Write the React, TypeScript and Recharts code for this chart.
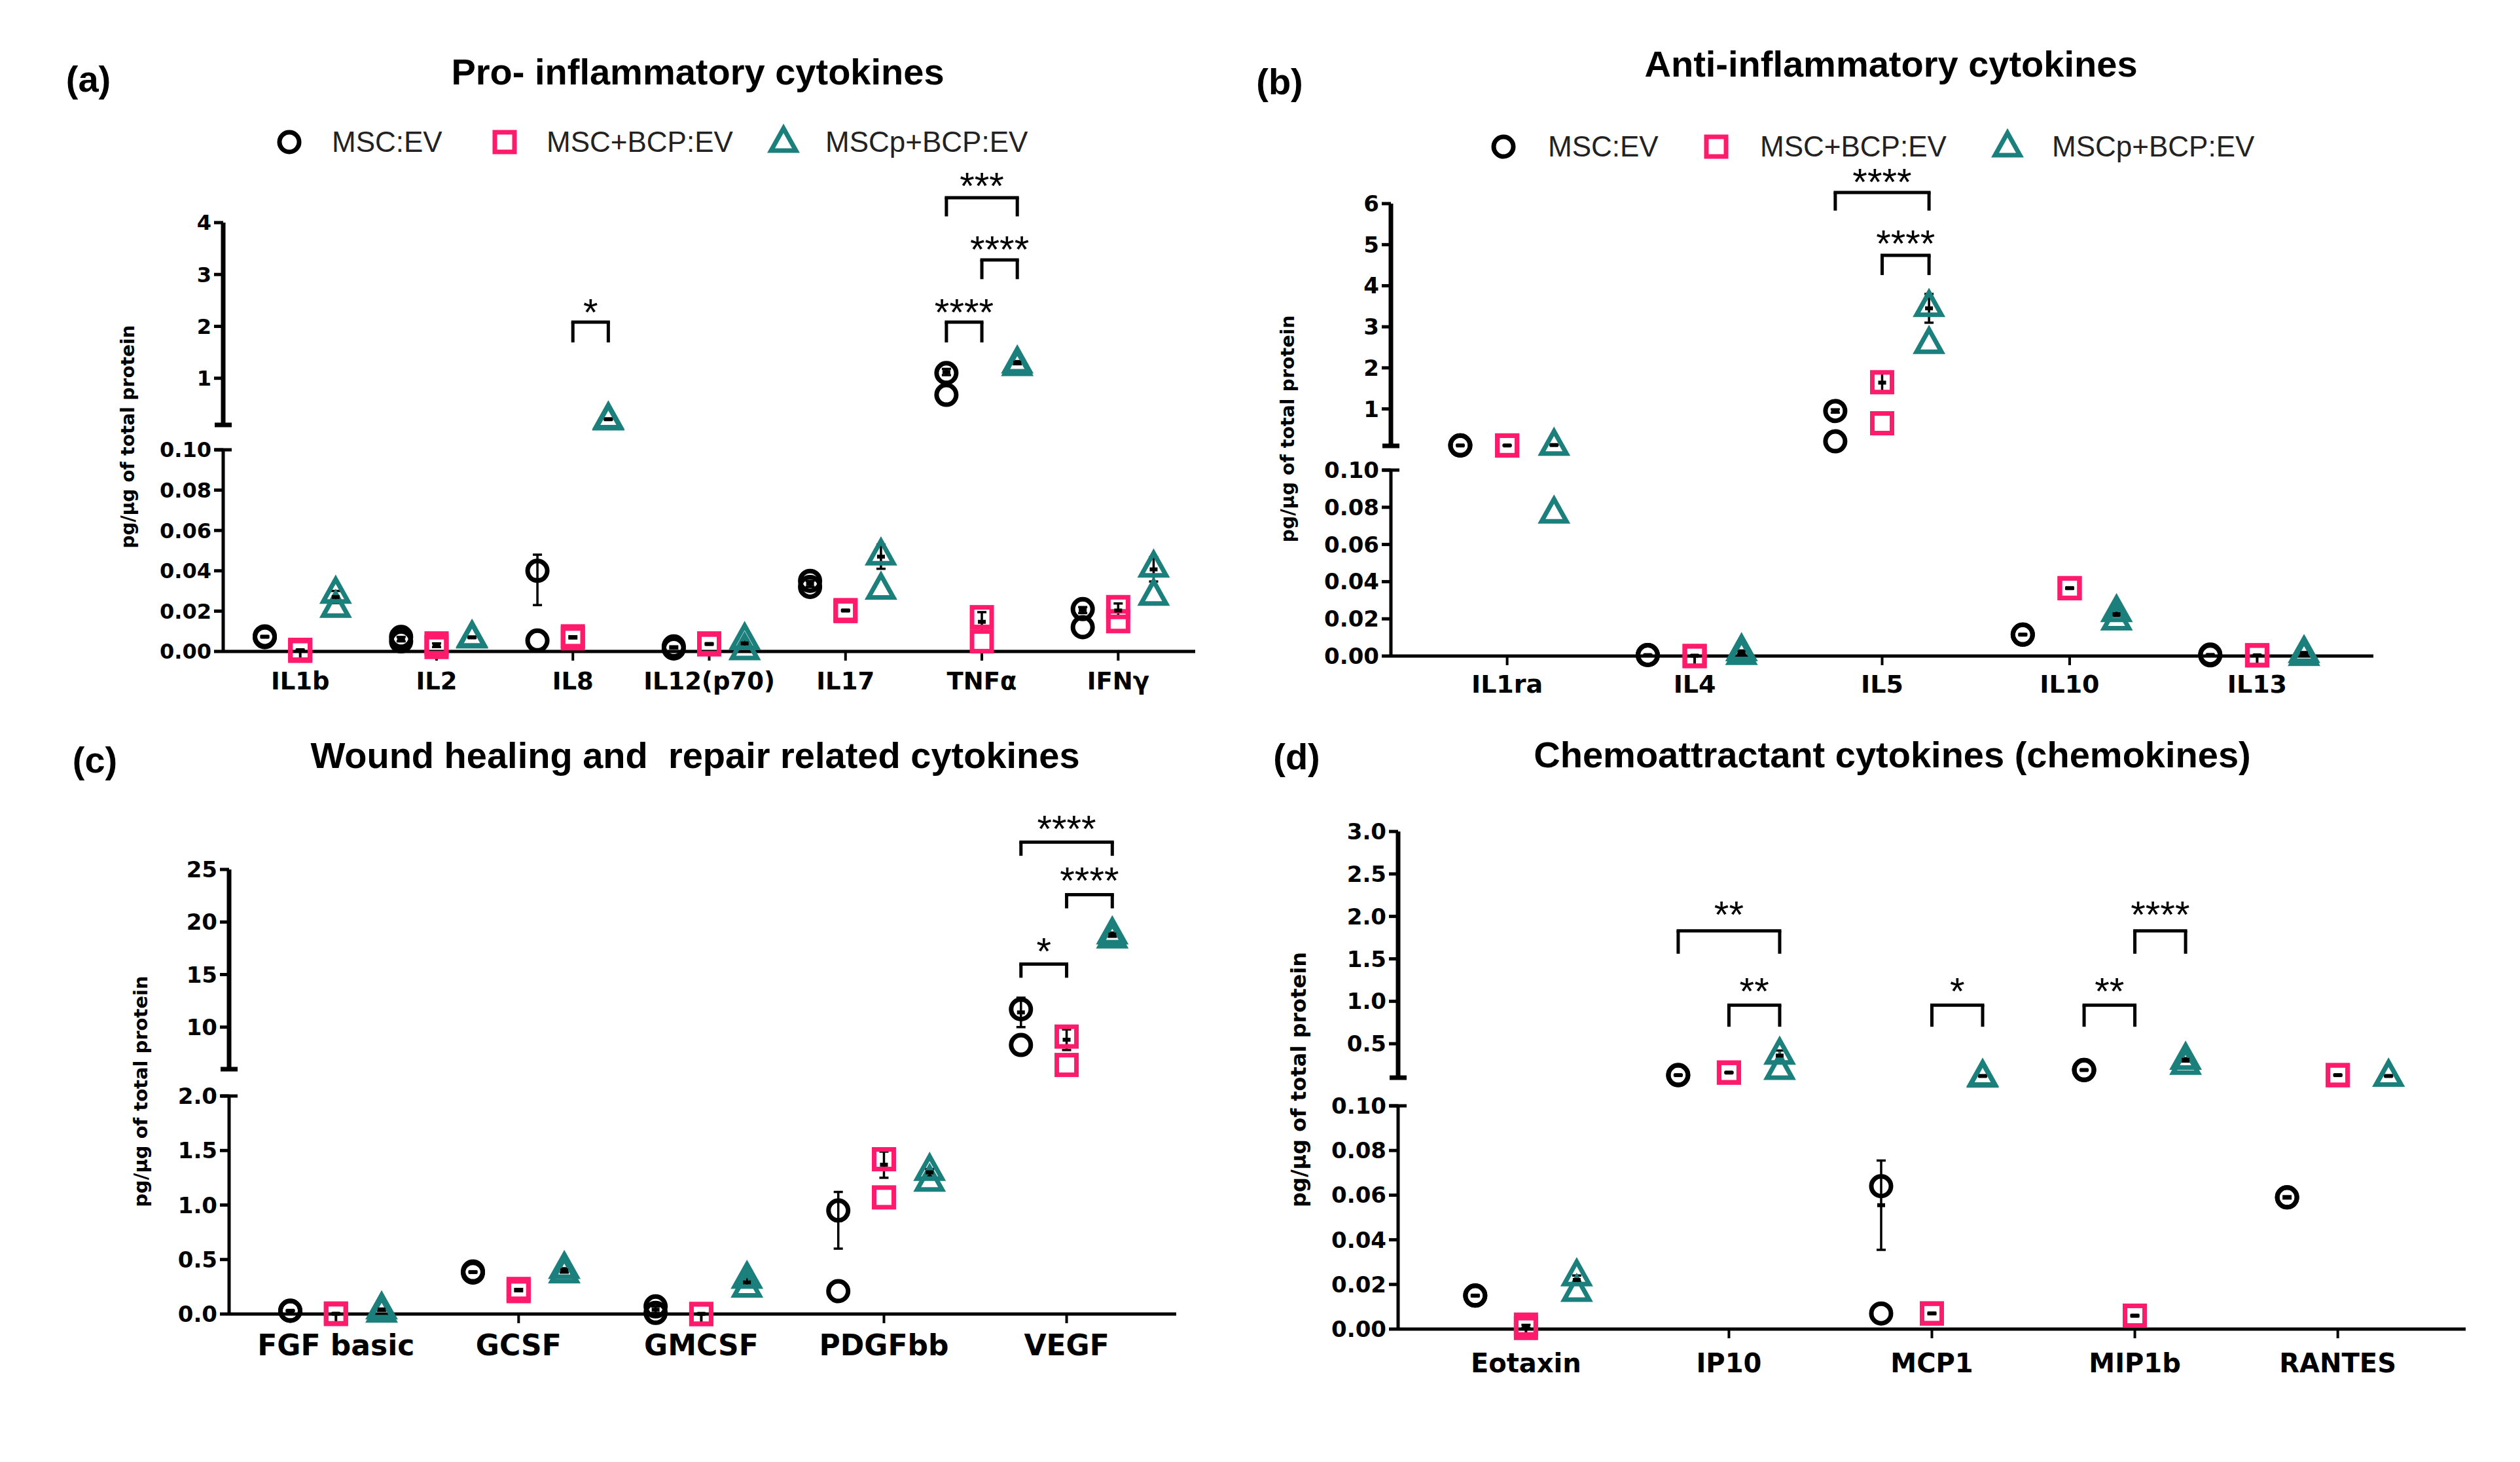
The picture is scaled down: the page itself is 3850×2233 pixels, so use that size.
import React from 'react';
import { ScatterChart, Scatter, XAxis, YAxis, ErrorBar, ReferenceLine, ReferenceDot } from 'recharts';

const BLACK = '#000000';
const PINK = '#FF1A6C';
const TEAL = '#1B807C';
const SERIES = ['MSC:EV', 'MSC+BCP:EV', 'MSCp+BCP:EV'];
const TITLE_FONT = "'Liberation Sans', Arial, sans-serif";
const AXIS_FONT = "'DejaVu Sans', sans-serif";

// (a) Pro-inflammatory cytokines: replicate pairs and [mean, sem]
const aCats = ['IL1b', 'IL2', 'IL8', 'IL12(p70)', 'IL17', 'TNFα', 'IFNγ'];
const aMsc = [[0.0075, 0.0071], [0.0072, 0.005], [0.04, 0.0054], [0.0025, 0.0015], [0.035, 0.032], [1.1, 0.68], [0.021, 0.012]];
const aMscBar = [[0.0073, 0.0003], [0.0061, 0.0011], [0.0355, 0.0125], [0.002, 0.0005], [0.0335, 0.0015], [1.12, 0.06], [0.0205, 0.0015]];
const aBcp = [[0.0008, 0.0003], [0.004, 0.0022], [0.0075, 0.0065], [0.004, 0.0035], [0.0205, 0.02], [0.017, 0.005], [0.022, 0.015]];
const aBcpBar = [[0.0006, 0.0003], [0.0031, 0.0009], [0.007, 0.0005], [0.0037, 0.0003], [0.0203, 0.0003], [0.0147, 0.0048], [0.0203, 0.0035]];
const aPb = [[0.029, 0.022], [0.0072, 0.0068], [0.22, 0.2], [0.006, 0.001], [0.048, 0.031], [1.3, 1.25], [0.042, 0.028]];
const aPbBar = [[0.027, 0.003], [0.007, 0.0003], [0.21, 0.01], [0.004, 0.0015], [0.047, 0.006], [1.3, 0.03], [0.0407, 0.006]];
// [category, from series, to series, bracket top, leg end, label y, text]
const aBrackets: [number, number, number, number, number, number, string][] = [
  [2, 1, 2, 2.08, 1.69, 2.4, '*'],
  [5, 0, 1, 2.08, 1.69, 2.4, '****'],
  [5, 1, 2, 3.28, 2.91, 3.62, '****'],
  [5, 0, 2, 4.48, 4.12, 4.84, '***'],
];

// (b) Anti-inflammatory cytokines
const bCats = ['IL1ra', 'IL4', 'IL5', 'IL10', 'IL13'];
const bMsc = [[0.11, 0.11], [0.0005, 0.0005], [0.95, 0.21], [0.0115, 0.0115], [0.0008, 0.0004]];
const bMscBar = [[0.11, 0.002], [0.0005, 0.0002], [0.95, 0.04], [0.0115, 0.0003], [0.0006, 0.0002]];
const bBcp = [[0.11, 0.11], [0, 0], [1.65, 0.65], [0.0365, 0.0365], [0.0004, 0.0004]];
const bBcpBar = [[0.11, 0.002], [0.0002, 0.0002], [1.64, 0.23], [0.0365, 0.0003], [0.0004, 0.0002]];
const bPb = [[0.12, 0.077], [0.003, 0.001], [3.5, 2.6], [0.024, 0.0195], [0.002, 0.0004]];
const bPbBar = [[0.12, 0.004], [0.002, 0.001], [3.45, 0.35], [0.0225, 0.001], [0.0015, 0.0006]];
const bBrackets: [number, number, number, number, number, number, string][] = [
  [2, 0, 2, 6.27, 5.83, 6.7, '****'],
  [2, 1, 2, 4.74, 4.26, 5.19, '****'],
];

// (c) Wound healing and repair related cytokines
const cCats = ['FGF basic', 'GCSF', 'GMCSF', 'PDGFbb', 'VEGF'];
const cMsc = [[0.03, 0.03], [0.39, 0.38], [0.07, 0.01], [0.95, 0.21], [11.7, 8.3]];
const cMscBar = [[0.03, 0.003], [0.385, 0.005], [0.04, 0.03], [0.86, 0.26], [11.4, 1.4]];
const cBcp = [[0.005, 0.0], [0.21, 0.23], [0.0, 0.0], [1.42, 1.07], [9.1, 6.4]];
const cBcpBar = [[0.003, 0.003], [0.22, 0.01], [0.002, 0.002], [1.37, 0.12], [8.8, 0.98]];
const cPb = [[0.05, 0.02], [0.42, 0.38], [0.33, 0.25], [1.32, 1.22], [18.9, 18.5]];
const cPbBar = [[0.04, 0.01], [0.4, 0.02], [0.29, 0.04], [1.3, 0.03], [18.8, 0.2]];
const cBrackets: [number, number, number, number, number, number, string][] = [
  [4, 0, 2, 27.6, 26.3, 29.5, '****'],
  [4, 1, 2, 22.6, 21.3, 24.6, '****'],
  [4, 0, 1, 16.0, 14.7, 17.85, '*'],
];

// (d) Chemoattractant cytokines (chemokines)
const dCats = ['Eotaxin', 'IP10', 'MCP1', 'MIP1b', 'RANTES'];
const dMsc = [[0.015, 0.015], [0.13, 0.13], [0.064, 0.007], [0.19, 0.19], [0.059, 0.059]];
const dMscBar = [[0.015, 0.0003], [0.13, 0.003], [0.0555, 0.02], [0.19, 0.003], [0.059, 0.0005]];
const dBcp = [[0.002, 0.0005], [0.16, 0.16], [0.007, 0.007], [0.006, 0.006], [0.13, 0.13]];
const dBcpBar = [[0.0012, 0.0007], [0.16, 0.003], [0.007, 0.0003], [0.006, 0.0003], [0.13, 0.005]];
const dPb = [[0.024, 0.017], [0.38, 0.2], [0.12, 0.11], [0.32, 0.26], [0.12, 0.12]];
const dPbBar = [[0.022, 0.002], [0.36, 0.06], [0.12, 0.005], [0.31, 0.02], [0.12, 0.005]];
const dBrackets: [number, number, number, number, number, number, string][] = [
  [1, 0, 2, 1.83, 1.56, 2.1, '**'],
  [1, 1, 2, 0.955, 0.7, 1.2, '**'],
  [2, 1, 2, 0.955, 0.7, 1.2, '*'],
  [3, 0, 1, 0.955, 0.7, 1.2, '**'],
  [3, 1, 2, 1.83, 1.56, 2.1, '****'],
];

type Seg = { top: number; bottom: number; domain: [number, number]; ticks: number[]; fmt: (v: number) => string };
type Panel = {
  letter: string; letterX: number; letterY: number;
  title: string; titleX: number; titleY: number;
  yLabelX: number; yLabelY: number; yLabelSize: number;
  cats: string[];
  series: { reps: number[][]; bars: number[][] }[];
  brackets: [number, number, number, number, number, number, string][];
  off: number; left: number; right: number; xDom: [number, number];
  brk: number; upper: Seg; lower: Seg;
  tickFont: number; catFont: number; catTop: number;
  legend?: { y: number; items: [number, number][] };
};

const f0 = (v: number) => String(v);
const f1 = (v: number) => v.toFixed(1);
const f2 = (v: number) => v.toFixed(2);
const small = [0, 0.02, 0.04, 0.06, 0.08, 0.1];

const panels: Panel[] = [
  {
    letter: '(a)', letterX: 135, letterY: 121, title: 'Pro- inflammatory cytokines', titleX: 1066, titleY: 110,
    yLabelX: 196, yLabelY: 667, yLabelSize: 28, cats: aCats,
    series: [{ reps: aMsc, bars: aMscBar }, { reps: aBcp, bars: aBcpBar }, { reps: aPb, bars: aPbBar }],
    brackets: aBrackets, off: 0.26, left: 341, right: 1826, xDom: [-0.565, 6.565], brk: 0.1,
    upper: { top: 340, bottom: 649, domain: [0.1, 4], ticks: [1, 2, 3, 4], fmt: f0 },
    lower: { top: 687, bottom: 995, domain: [0, 0.1], ticks: small, fmt: f2 },
    tickFont: 32, catFont: 37, catTop: 32,
    legend: { y: 217, items: [[442, 507], [771, 835], [1197, 1261]] },
  },
  {
    letter: '(b)', letterX: 1955, letterY: 125, title: 'Anti-inflammatory cytokines', titleX: 2889, titleY: 98,
    yLabelX: 1968, yLabelY: 655, yLabelSize: 28.5, cats: bCats,
    series: [{ reps: bMsc, bars: bMscBar }, { reps: bBcp, bars: bBcpBar }, { reps: bPb, bars: bPbBar }],
    brackets: bBrackets, off: 0.25, left: 2125, right: 3626, xDom: [-0.62, 4.62], brk: 0.1,
    upper: { top: 311, bottom: 681, domain: [0.1, 6], ticks: [1, 2, 3, 4, 5, 6], fmt: f0 },
    lower: { top: 718, bottom: 1002, domain: [0, 0.1], ticks: small, fmt: f2 },
    tickFont: 34, catFont: 38, catTop: 29,
    legend: { y: 224, items: [[2297, 2365], [2622, 2689], [3067, 3135]] },
  },
  {
    letter: '(c)', letterX: 145, letterY: 1161, title: 'Wound healing and  repair related cytokines', titleX: 1062, titleY: 1154,
    yLabelX: 215, yLabelY: 1667, yLabelSize: 29, cats: cCats,
    series: [{ reps: cMsc, bars: cMscBar }, { reps: cBcp, bars: cBcpBar }, { reps: cPb, bars: cPbBar }],
    brackets: cBrackets, off: 0.25, left: 350, right: 1797, xDom: [-0.585, 4.6], brk: 2,
    upper: { top: 1328, bottom: 1633, domain: [6, 25], ticks: [10, 15, 20, 25], fmt: f0 },
    lower: { top: 1674, bottom: 2007, domain: [0, 2], ticks: [0, 0.5, 1, 1.5, 2], fmt: f1 },
    tickFont: 34, catFont: 44, catTop: 32,
  },
  {
    letter: '(d)', letterX: 1981, letterY: 1156, title: 'Chemoattractant cytokines (chemokines)', titleX: 2891, titleY: 1153,
    yLabelX: 1984, yLabelY: 1649, yLabelSize: 32, cats: dCats,
    series: [{ reps: dMsc, bars: dMscBar }, { reps: dBcp, bars: dBcpBar }, { reps: dPb, bars: dPbBar }],
    brackets: dBrackets, off: 0.25, left: 2136, right: 3767, xDom: [-0.63, 4.63], brk: 0.1,
    upper: { top: 1270, bottom: 1646, domain: [0.1, 3], ticks: [0.5, 1, 1.5, 2, 2.5, 3], fmt: f1 },
    lower: { top: 1689, bottom: 2030, domain: [0, 0.1], ticks: small, fmt: f2 },
    tickFont: 34, catFont: 40, catTop: 38,
  },
];

const circleShape = (p: any) => <circle cx={p.cx} cy={p.cy} r={15} fill="none" stroke={BLACK} strokeWidth={7} />;
const squareShape = (p: any) => (
  <rect x={p.cx - 15} y={p.cy - 15} width={30} height={30} fill="none" stroke={PINK} strokeWidth={7} />
);
const triShape = (p: any) => (
  <path d={`M${p.cx},${p.cy - 21}L${p.cx + 19},${p.cy + 13}L${p.cx - 19},${p.cy + 13}Z`} fill="none" stroke={TEAL} strokeWidth={7} />
);
const dashShape = (p: any) => <rect x={p.cx - 6} y={p.cy - 3} width={12} height={6} fill={BLACK} />;
const shapes = [circleShape, squareShape, triShape];

const YW = 130;
const MR = 60;
const STAR_SHIFT = 10; // px: asterisk glyphs sit high in their text box

function Segment({ p, lower }: { p: Panel; lower: boolean }) {
  const seg = lower ? p.lower : p.upper;
  const MT = lower ? 30 : 160;
  const MB = lower ? 0 : 40;
  const XH = lower ? 120 : 0;
  const plotW = p.right - p.left;
  const plotH = seg.bottom - seg.top;
  const width = YW + plotW + MR;
  const height = MT + plotH + MB + XH;
  const inSeg = (v: number) => (lower ? v <= p.brk : v > p.brk);
  const xOf = (i: number, k: number) => i + (k - 1) * p.off;
  const marks = p.series.map((s, k) =>
    s.reps.flatMap((pair, i) => pair.filter(inSeg).map((v) => ({ x: xOf(i, k), y: v })))
  );
  const means = p.series
    .flatMap((s, k) => s.bars.map(([m, e], i) => ({ x: xOf(i, k), y: m, err: e })))
    .filter((d) => inSeg(d.y));
  const unitX = plotW / (p.xDom[1] - p.xDom[0]);
  const unitY = plotH / (seg.domain[1] - seg.domain[0]);
  const capHalf = 13 / unitX;
  const capY = lower ? seg.domain[1] : seg.domain[0];
  const tickStyle = { fill: BLACK, fontSize: p.tickFont, fontWeight: 700, fontFamily: AXIS_FONT };

  return (
    <div style={{ position: 'absolute', left: p.left - YW, top: seg.top - MT }}>
      <ScatterChart width={width} height={height} margin={{ top: MT, right: MR, bottom: MB, left: 0 }}>
        <XAxis
          type="number"
          dataKey="x"
          domain={p.xDom}
          ticks={p.cats.map((_, i) => i)}
          interval={0}
          tickFormatter={(v: number) => p.cats[Math.round(v)] ?? ''}
          hide={!lower}
          height={XH}
          axisLine={{ stroke: BLACK, strokeWidth: 5 }}
          tickLine={{ stroke: BLACK, strokeWidth: 4 }}
          tickSize={14}
          tickMargin={p.catTop - 14}
          tick={{ fill: BLACK, fontSize: p.catFont, fontWeight: 700, fontFamily: AXIS_FONT }}
        />
        <YAxis
          type="number"
          dataKey="y"
          domain={seg.domain}
          ticks={seg.ticks}
          interval={0}
          tickFormatter={seg.fmt}
          width={YW}
          axisLine={{ stroke: BLACK, strokeWidth: lower ? 5 : 7 }}
          tickLine={{ stroke: BLACK, strokeWidth: 5 }}
          tickSize={14}
          tickMargin={4}
          tick={tickStyle}
        />
        <ReferenceLine
          segment={[{ x: p.xDom[0] - capHalf, y: capY }, { x: p.xDom[0] + capHalf, y: capY }]}
          stroke={BLACK}
          strokeWidth={lower ? 5 : 7}
          ifOverflow="visible"
        />
        {marks.map((data, k) => (
          <Scatter key={SERIES[k]} name={SERIES[k]} data={data} shape={shapes[k]} isAnimationActive={false} />
        ))}
        <Scatter name="mean" data={means} shape={dashShape} isAnimationActive={false}>
          <ErrorBar dataKey="err" direction="y" width={7} stroke={BLACK} strokeWidth={3.5} />
        </Scatter>
        {!lower &&
          p.brackets.map(([c, s1, s2, yTop, yLeg, yLab, txt], j) => {
            const x1 = xOf(c, s1);
            const x2 = xOf(c, s2);
            return (
              <React.Fragment key={'br' + j}>
                <ReferenceLine segment={[{ x: x1, y: yTop }, { x: x2, y: yTop }]} stroke={BLACK} strokeWidth={5} strokeLinecap="square" ifOverflow="visible" />
                <ReferenceLine segment={[{ x: x1, y: yTop }, { x: x1, y: yLeg }]} stroke={BLACK} strokeWidth={5} ifOverflow="visible" />
                <ReferenceLine segment={[{ x: x2, y: yTop }, { x: x2, y: yLeg }]} stroke={BLACK} strokeWidth={5} ifOverflow="visible" />
                <ReferenceDot
                  x={(x1 + x2) / 2}
                  y={yLab - STAR_SHIFT / unitY}
                  r={0}
                  fill="none"
                  stroke="none"
                  ifOverflow="visible"
                  label={{ value: txt, position: 'center', fill: BLACK, fontSize: 58, fontFamily: TITLE_FONT }}
                />
              </React.Fragment>
            );
          })}
      </ScatterChart>
    </div>
  );
}

function LegendRow({ y, items }: { y: number; items: [number, number][] }) {
  return (
    <>
      {items.map(([mx, tx], k) => (
        <React.Fragment key={SERIES[k]}>
          <svg width={56} height={56} style={{ position: 'absolute', left: mx - 28, top: y - 28 }}>
            {shapes[k]({ cx: 28, cy: 28 })}
          </svg>
          <div
            style={{
              position: 'absolute', left: tx, top: y, transform: 'translateY(-50%)',
              fontFamily: TITLE_FONT, fontSize: 44, lineHeight: 0.8, whiteSpace: 'nowrap', color: '#222',
            }}
          >
            {SERIES[k]}
          </div>
        </React.Fragment>
      ))}
    </>
  );
}

function PanelView({ p }: { p: Panel }) {
  const centered = (x: number, y: number): React.CSSProperties => ({
    position: 'absolute', left: x, top: y, transform: 'translate(-50%, -50%)', lineHeight: 1, whiteSpace: 'pre',
  });
  return (
    <>
      <div style={{ ...centered(p.letterX, p.letterY), fontFamily: TITLE_FONT, fontWeight: 700, fontSize: 56 }}>{p.letter}</div>
      <div style={{ ...centered(p.titleX, p.titleY), fontFamily: TITLE_FONT, fontWeight: 700, fontSize: 56 }}>{p.title}</div>
      {p.legend && <LegendRow y={p.legend.y} items={p.legend.items} />}
      <div
        style={{
          ...centered(p.yLabelX, p.yLabelY), transform: 'translate(-50%, -50%) rotate(-90deg)',
          fontFamily: AXIS_FONT, fontWeight: 700, fontSize: p.yLabelSize,
        }}
      >
        pg/μg of total protein
      </div>
      <Segment p={p} lower={false} />
      <Segment p={p} lower={true} />
    </>
  );
}

export default function App() {
  return (
    <div style={{ position: 'absolute', left: 0, top: 0, width: 3850, height: 2233, background: '#fff', overflow: 'hidden' }}>
      {panels.map((p) => (
        <PanelView key={p.letter} p={p} />
      ))}
    </div>
  );
}
